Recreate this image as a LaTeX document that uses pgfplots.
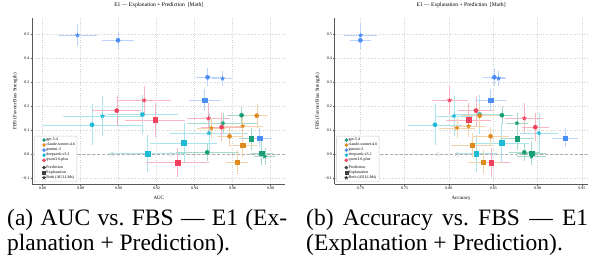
\documentclass[border=0pt]{standalone}
\usepackage{pgfplots}
\pgfplotsset{compat=1.18}
\usepackage{fontspec}
\setmainfont{Liberation Serif}
\definecolor{cgpt}{HTML}{1A9E77}
\definecolor{ccl}{HTML}{DF8A1F}
\definecolor{cgem}{HTML}{4D8DF6}
\definecolor{cds}{HTML}{1FBAD6}
\definecolor{cqw}{HTML}{F0405E}
\pgfdeclareplotmark{fstar}{%
  \pgfpathmoveto{\pgfpointpolar{90}{\pgfplotmarksize}}%
  \pgfpathlineto{\pgfpointpolar{126}{0.42\pgfplotmarksize}}%
  \pgfpathlineto{\pgfpointpolar{162}{\pgfplotmarksize}}%
  \pgfpathlineto{\pgfpointpolar{198}{0.42\pgfplotmarksize}}%
  \pgfpathlineto{\pgfpointpolar{234}{\pgfplotmarksize}}%
  \pgfpathlineto{\pgfpointpolar{270}{0.42\pgfplotmarksize}}%
  \pgfpathlineto{\pgfpointpolar{306}{\pgfplotmarksize}}%
  \pgfpathlineto{\pgfpointpolar{342}{0.42\pgfplotmarksize}}%
  \pgfpathlineto{\pgfpointpolar{18}{\pgfplotmarksize}}%
  \pgfpathlineto{\pgfpointpolar{54}{0.42\pgfplotmarksize}}%
  \pgfpathclose\pgfusepathqfillstroke}
\pgfplotsset{
  pt/.style={only marks, forget plot, color=#1, mark options={solid, fill=#1, draw=#1, line width=0.2pt},
    error bars/x dir=both, error bars/x explicit, error bars/y dir=both, error bars/y explicit,
    error bars/error bar style={color=#1!38, line width=0.45pt, solid},
    error bars/error mark options={color=#1!38, mark size=1.1pt, line width=0.45pt}},
  pred/.style={mark=*, mark size=2.2pt},
  expl/.style={mark=square*, mark size=2.3pt},
  both/.style={mark=fstar, mark size=2.3pt},
  base/.style={
    scale only axis, width=253pt, height=166pt,
    ymin=-0.125, ymax=0.5667,
    axis x line*=bottom, axis y line*=left,
    axis line style={-, draw=black!65, line width=0.8pt},
    tick style={draw=black!65, line width=0.5pt},
    major tick length=1.6pt, tick align=outside,
    grid=major, major grid style={dotted, draw=gray!35, line width=0.4pt},
    ytick={-0.1,0,0.1,0.2,0.3,0.4,0.5},
    yticklabels={−0.1,0.0,0.1,0.2,0.3,0.4,0.5},
    tick label style={font=\fontsize{4}{4.5}\selectfont, inner sep=1pt},
    title style={font=\fontsize{5.6}{6}\selectfont, at={(axis description cs:0.5,1)}, anchor=base, yshift=5.5pt, inner sep=0pt},
    xlabel style={font=\fontsize{5}{6}\selectfont, at={(axis description cs:0.5,0)}, anchor=base, yshift=-15pt, inner sep=0pt},
    ylabel style={font=\fontsize{5}{6}\selectfont, at={(axis description cs:-0.0672,0.5)}, anchor=center, inner sep=0pt},
    ylabel={FBS (Favour Bias Strength)},
    title={E1 — Explanation + Prediction\ \ [Math]},
    legend style={at={(axis description cs:0.007,0.014)}, anchor=south west,
      font=\fontsize{4}{4.5}\selectfont, draw=gray!40, rounded corners=1pt, fill=white,
      inner sep=1.2pt, row sep=-0.6pt, nodes={inner sep=0.7pt}},
    legend cell align=left,
  }
}
\newcommand{\legendall}{%
  \addlegendimage{only marks, mark=*, color=cgpt, mark size=1.6pt}\addlegendentry{gpt-5.4}
  \addlegendimage{only marks, mark=*, color=ccl, mark size=1.6pt}\addlegendentry{claude-sonnet-4.6}
  \addlegendimage{only marks, mark=*, color=cgem, mark size=1.6pt}\addlegendentry{gemini-3}
  \addlegendimage{only marks, mark=*, color=cds, mark size=1.6pt}\addlegendentry{deepseek-v3.2}
  \addlegendimage{only marks, mark=*, color=cqw, mark size=1.6pt}\addlegendentry{qwen3.6-plus}
  \addlegendimage{empty legend}\addlegendentry{}
  \addlegendimage{only marks, mark=*, color=black!75, mark size=1.6pt}\addlegendentry{Prediction}
  \addlegendimage{only marks, mark=square*, color=black!75, mark size=1.5pt}\addlegendentry{Explanation}
  \addlegendimage{only marks, mark=fstar, color=black!75, mark size=1.8pt}\addlegendentry{Both (All LLMs)}
}
\begin{document}
\begin{tikzpicture}
% ---------------- (a) AUC ----------------
\begin{axis}[base, name=L,
  xmin=0.85455, xmax=0.98773,
  xtick={0.86,0.88,0.90,0.92,0.94,0.96,0.98},
  xticklabels={0.86,0.88,0.90,0.92,0.94,0.96,0.98},
  xlabel={AUC}]
\legendall
\addplot[forget plot, densely dashed, color=gray!65, line width=0.7pt] coordinates {(0.85455,0) (0.98773,0)};
\addplot[forget plot, only marks, mark=o, mark size=2pt, draw=gray!30] coordinates {(0.8966,0) (0.9275,0)};
% deepseek
\addplot[pt=cds, pred] coordinates {(0.886,0.123) +- (0.0255,0.081) (0.9125,0.166) +- (0.018,0.076)};
\addplot[pt=cds, expl] coordinates {(0.9343,0.048) +- (0.017,0.076) (0.9152,0.004) +- (0.0197,0.073)};
\addplot[pt=cds, both] coordinates {(0.8915,0.160) +- (0.020,0.079) (0.9475,0.088) +- (0.020,0.080)};
% qwen
\addplot[pt=cqw, pred] coordinates {(0.899,0.182) +- (0.0123,0.058) (0.9542,0.113) +- (0.0105,0.054)};
\addplot[pt=cqw, expl] coordinates {(0.9192,0.144) +- (0.0153,0.067) (0.931,-0.035) +- (0.016,0.056)};
\addplot[pt=cqw, both] coordinates {(0.9134,0.225) +- (0.0134,0.056) (0.9473,0.150) +- (0.0105,0.058)};
% gpt
\addplot[pt=cgpt, pred] coordinates {(0.9647,0.163) +- (0.007,0.033) (0.9466,0.008) +- (0.016,0.030)};
\addplot[pt=cgpt, expl] coordinates {(0.9697,0.065) +- (0.006,0.042) (0.9753,0.005) +- (0.0056,0.045)};
\addplot[pt=cgpt, both] coordinates {(0.9549,0.130) +- (0.018,0.039) (0.9769,-0.009) +- (0.005,0.030)};
% claude
\addplot[pt=ccl, pred] coordinates {(0.9727,0.161) +- (0.0053,0.045) (0.9584,0.075) +- (0.006,0.035)};
\addplot[pt=ccl, expl] coordinates {(0.9653,0.038) +- (0.0067,0.045) (0.9623,-0.033) +- (0.0053,0.046)};
\addplot[pt=ccl, both] coordinates {(0.9653,0.118) +- (0.010,0.038) (0.9488,0.110) +- (0.007,0.038)};
% gemini
\addplot[pt=cgem, pred] coordinates {(0.8997,0.475) +- (0.0079,0.031) (0.9468,0.321) +- (0.0056,0.033)};
\addplot[pt=cgem, expl] coordinates {(0.9452,0.226) +- (0.0074,0.040) (0.9742,0.068) +- (0.006,0.035)};
\addplot[pt=cgem, both] coordinates {(0.8783,0.496) +- (0.0096,0.042) (0.9547,0.316) +- (0.0048,0.025)};
\end{axis}
% ---------------- (b) Accuracy ----------------
\begin{axis}[base, at={(L.south east)}, anchor=south west, xshift=49.3pt,
  xmin=0.671, xmax=0.9564,
  xtick={0.70,0.75,0.80,0.85,0.90,0.95},
  xticklabels={0.70,0.75,0.80,0.85,0.90,0.95},
  xlabel={Accuracy}]
\legendall
\addplot[forget plot, densely dashed, color=gray!65, line width=0.7pt] coordinates {(0.671,0) (0.9564,0)};
\addplot[forget plot, only marks, mark=o, mark size=2pt, draw=gray!30] coordinates {(0.7876,0) (0.809,0)};
% deepseek
\addplot[pt=cds, pred] coordinates {(0.7842,0.123) +- (0.0297,0.081) (0.8346,0.166) +- (0.026,0.076)};
\addplot[pt=cds, expl] coordinates {(0.8594,0.048) +- (0.030,0.076) (0.8305,0.004) +- (0.0225,0.073)};
\addplot[pt=cds, both] coordinates {(0.8056,0.160) +- (0.020,0.079) (0.9015,0.088) +- (0.020,0.080)};
% qwen
\addplot[pt=cqw, pred] coordinates {(0.8305,0.182) +- (0.019,0.058) (0.8974,0.113) +- (0.014,0.054)};
\addplot[pt=cqw, expl] coordinates {(0.8222,0.144) +- (0.024,0.067) (0.8474,-0.035) +- (0.0207,0.056)};
\addplot[pt=cqw, both] coordinates {(0.8008,0.225) +- (0.019,0.056) (0.885,0.150) +- (0.020,0.058)};
% gpt
\addplot[pt=cgpt, pred] coordinates {(0.8598,0.163) +- (0.0113,0.033) (0.885,0.008) +- (0.016,0.030)};
\addplot[pt=cgpt, expl] coordinates {(0.8767,0.065) +- (0.018,0.042) (0.8929,0.005) +- (0.015,0.045)};
\addplot[pt=cgpt, both] coordinates {(0.8767,0.130) +- (0.011,0.039) (0.8932,-0.009) +- (0.015,0.030)};
% claude
\addplot[pt=ccl, pred] coordinates {(0.8346,0.161) +- (0.020,0.045) (0.847,0.075) +- (0.0197,0.035)};
\addplot[pt=ccl, expl] coordinates {(0.826,0.038) +- (0.0225,0.045) (0.8387,-0.033) +- (0.016,0.046)};
\addplot[pt=ccl, both] coordinates {(0.8222,0.118) +- (0.018,0.038) (0.809,0.110) +- (0.019,0.038)};
% gemini
\addplot[pt=cgem, pred] coordinates {(0.700,0.475) +- (0.0105,0.031) (0.8511,0.321) +- (0.0113,0.033)};
\addplot[pt=cgem, expl] coordinates {(0.847,0.226) +- (0.0165,0.040) (0.9308,0.068) +- (0.013,0.035)};
\addplot[pt=cgem, both] coordinates {(0.7004,0.496) +- (0.0173,0.042) (0.856,0.316) +- (0.0075,0.025)};
\end{axis}
% captions
\node[anchor=base west, inner sep=0pt, font=\fontsize{23.5}{25}\selectfont, xshift=-25.3pt, yshift=-41.7pt] at (L.south west) {\makebox[280pt][s]{(a) AUC vs.\ FBS — E1 (Ex-}};
\node[anchor=base west, inner sep=0pt, font=\fontsize{23.5}{25}\selectfont, xshift=-25.3pt, yshift=-66.5pt] at (L.south west) {planation + Prediction).};
\node[anchor=base west, inner sep=0pt, font=\fontsize{23.5}{25}\selectfont, xshift=273.7pt, yshift=-41.7pt] at (L.south west) {\makebox[282pt][s]{(b) Accuracy vs.\ FBS — E1}};
\node[anchor=base west, inner sep=0pt, font=\fontsize{23.5}{25}\selectfont, xshift=273.7pt, yshift=-66.5pt] at (L.south west) {(Explanation + Prediction).};
\path (L.south west) ++(-32.3pt,-71.7pt) rectangle ++(595pt,256pt);
\end{tikzpicture}
\end{document}
